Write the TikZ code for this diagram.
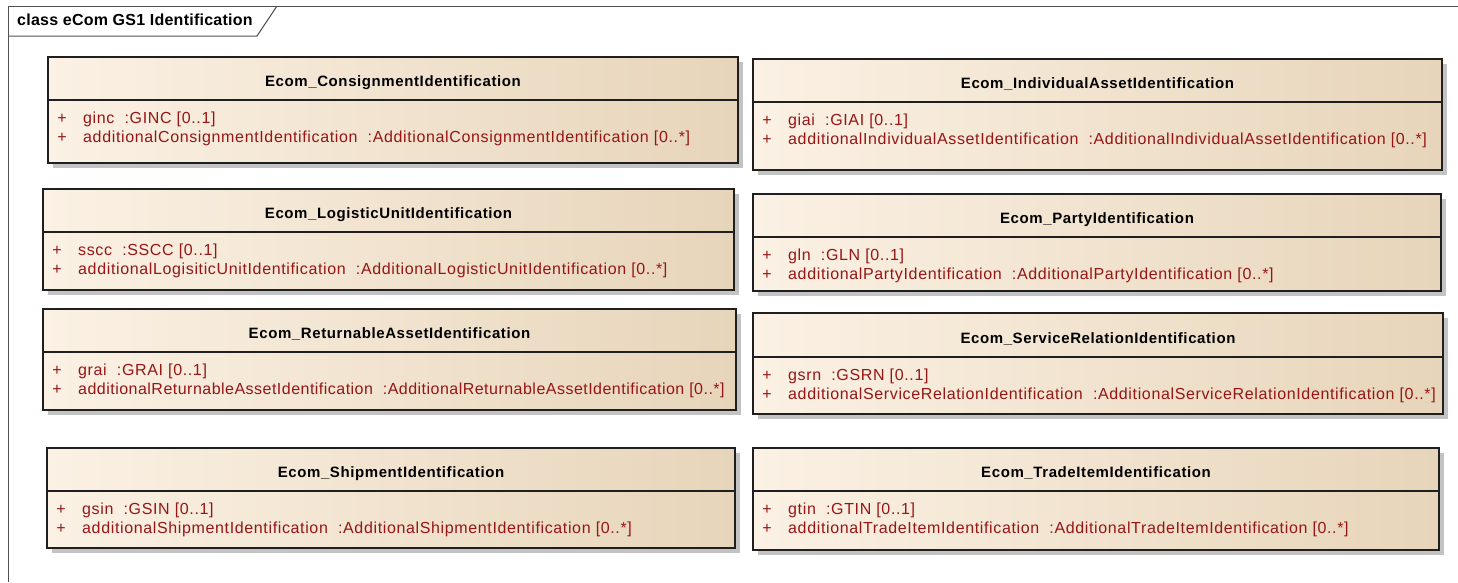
\documentclass[tikz,border=0pt]{standalone}
\usepackage{fontspec}
\setmainfont{Liberation Sans}
\newfontfamily\attrfont[LetterSpace=4.0]{Liberation Sans}
\newfontfamily\attrfontnarrow[LetterSpace=3.0]{Liberation Sans}
\newfontfamily\headfont[LetterSpace=4]{Liberation Sans}
\newfontfamily\tabfont[LetterSpace=1.5]{Liberation Sans}
\definecolor{attrred}{RGB}{150,22,22}
\definecolor{boxL}{RGB}{251,241,228}
\definecolor{boxM}{RGB}{245,231,212}
\definecolor{boxR}{RGB}{231,213,186}
\definecolor{shadowgray}{RGB}{195,195,195}
\definecolor{framegray}{RGB}{80,80,80}
\tikzset{
  umlbox/.style={rectangle, draw=black!88, line width=1.2pt, inner sep=0pt, outer sep=0pt, left color=boxL, middle color=boxM, right color=boxR},
  divline/.style={draw=black!88, line width=1.2pt},
  shadowbox/.style={fill=shadowgray},
  clstitle/.style={anchor=base, inner sep=0pt, font=\headfont\bfseries\fontsize{15}{17}\selectfont, text=black},
  plussign/.style={anchor=base, inner sep=0pt, font=\attrfont\fontsize{16}{18}\selectfont, text=attrred},
  attr/.style={anchor=base west, inner sep=0pt, font=\attrfont\fontsize{16}{18}\selectfont, text=attrred},
  frameline/.style={draw=framegray, line width=1pt},
  tabtitle/.style={anchor=base west, inner sep=0pt, font=\tabfont\bfseries\fontsize{16}{18}\selectfont, text=black}
}
% #1 name, #2 left, #3 top, #4 right, #5 divider, #6 bottom, #7 title, #8 attr1, #9 attr2
\newcommand\umlclass[9]{%
  \fill[shadowbox] (#2+5,#3+5) rectangle (#4+5,#6+5);
  \node[umlbox, anchor=north west, minimum width={#4-#2}, minimum height={#6-#3}] (#1) at (#2,#3) {};
  \draw[divline] (#2,#5) -- (#4,#5);
  \node[clstitle] (#1-title) at ({(#2+#4)/2},{(#3+#5)/2+8}) {#7};
  \node[plussign] (#1-p1) at (#2+14,#5+23) {+};
  \node[attr] (#1-a1) at (#2+35,#5+23) {#8};
  \node[plussign] (#1-p2) at (#2+14,#5+42) {+};
  \node[attr] (#1-a2) at (#2+35,#5+42) {#9};
}
\begin{document}
\begin{tikzpicture}[x=1pt,y=-1pt]
\useasboundingbox[fill=white] (0,0) rectangle (1458,582);
% frame
\draw[frameline] (8,582) -- (8,6) -- (1458,6);
\draw[frameline] (8,36) -- (257,36) -- (277,6);
\node[tabtitle] (tab) at (17,25.5) {class eCom GS1 Identification};
% classes
\umlclass{c1}{48}{57}{738}{100}{163}{Ecom\_ConsignmentIdentification}{ginc\ \ :GINC [0..1]}{additionalConsignmentIdentification\ \ :AdditionalConsignmentIdentification [0..*]}
\umlclass{c2}{753}{59}{1442}{102}{170}{Ecom\_IndividualAssetIdentification}{giai\ \ :GIAI [0..1]}{additionalIndividualAssetIdentification\ \ :AdditionalIndividualAssetIdentification [0..*]}
\umlclass{c3}{43}{189}{734}{232}{290}{Ecom\_LogisticUnitIdentification}{sscc\ \ :SSCC [0..1]}{additionalLogisiticUnitIdentification\ \ :AdditionalLogisticUnitIdentification [0..*]}
\umlclass{c4}{753}{194}{1441}{237}{291}{Ecom\_PartyIdentification}{gln\ \ :GLN [0..1]}{additionalPartyIdentification\ \ :AdditionalPartyIdentification [0..*]}
\umlclass{c5}{43}{309}{736}{352}{410}{Ecom\_ReturnableAssetIdentification}{grai\ \ :GRAI [0..1]}{\attrfontnarrow additionalReturnableAssetIdentification\ \ :AdditionalReturnableAssetIdentification [0..*]}
\umlclass{c6}{753}{313}{1443}{357}{414}{Ecom\_ServiceRelationIdentification}{gsrn\ \ :GSRN [0..1]}{additionalServiceRelationIdentification\ \ :AdditionalServiceRelationIdentification [0..*]}
\umlclass{c7}{47}{448}{735}{491}{548}{Ecom\_ShipmentIdentification}{gsin\ \ :GSIN [0..1]}{additionalShipmentIdentification\ \ :AdditionalShipmentIdentification [0..*]}
\umlclass{c8}{753}{448}{1439}{491}{550}{Ecom\_TradeItemIdentification}{gtin\ \ :GTIN [0..1]}{additionalTradeItemIdentification\ \ :AdditionalTradeItemIdentification [0..*]}
\end{tikzpicture}
\end{document}
